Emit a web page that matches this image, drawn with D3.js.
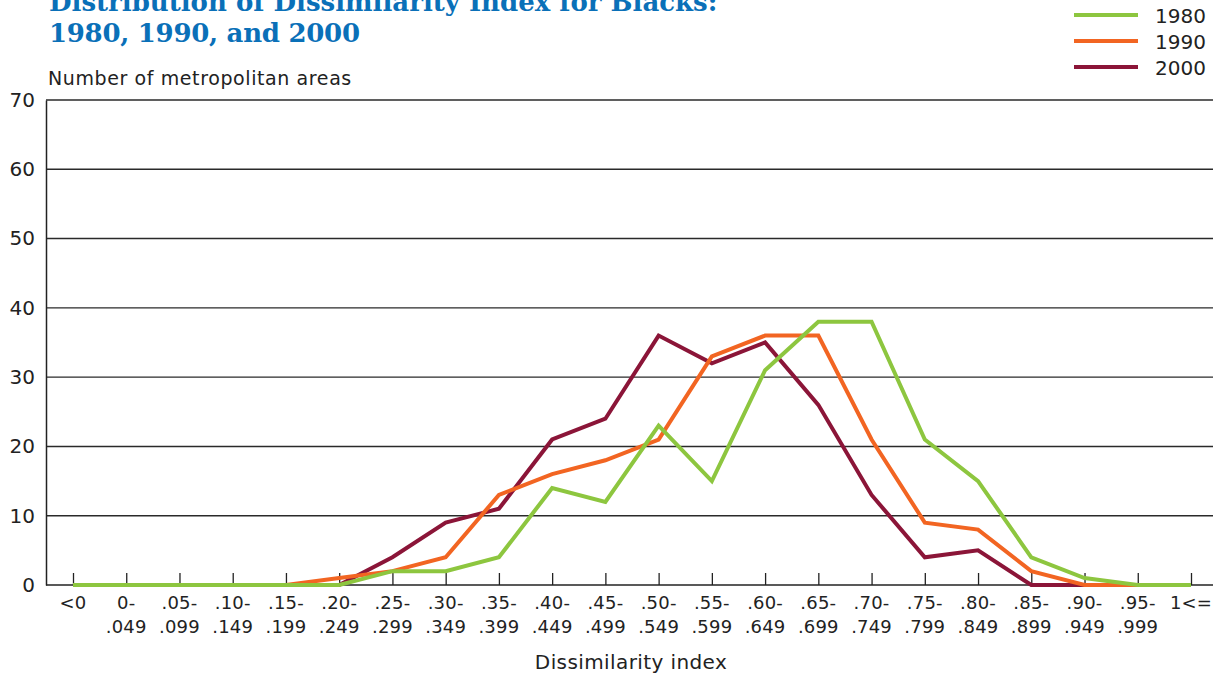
<!DOCTYPE html>
<html><head><meta charset="utf-8">
<script src="https://cdn.jsdelivr.net/npm/d3@7/dist/d3.min.js"></script>
<style>body{margin:0;background:#fff}svg{display:block}</style>
</head><body>
<script>
const categories = ["<0","0-.049",".05-.099",".10-.149",".15-.199",".20-.249",".25-.299",".30-.349",".35-.399",".40-.449",".45-.499",".50-.549",".55-.599",".60-.649",".65-.699",".70-.749",".75-.799",".80-.849",".85-.899",".90-.949",".95-.999","1<="];
const labelLine1 = ["<0","0-",".05-",".10-",".15-",".20-",".25-",".30-",".35-",".40-",".45-",".50-",".55-",".60-",".65-",".70-",".75-",".80-",".85-",".90-",".95-","1<="];
const labelLine2 = ["",".049",".099",".149",".199",".249",".299",".349",".399",".449",".499",".549",".599",".649",".699",".749",".799",".849",".899",".949",".999",""];
const v1980 = [0,0,0,0,0,0,2,2,4,14,12,23,15,31,38,38,21,15,4,1,0,0];
const v1990 = [0,0,0,0,0,1,2,4,13,16,18,21,33,36,36,21,9,8,2,0,0,0];
const v2000 = [0,0,0,0,0,0,4,9,11,21,24,36,32,35,26,13,4,5,0,0,0,0];
const yTicks = [0,10,20,30,40,50,60,70];
const seriesNames = ["1980","1990","2000"];
const seriesColors = ["#8dc63f","#f26522","#8b1538"];

const W=1213,H=677;
const svg=d3.select("body").append("svg").attr("width",W).attr("height",H);
const font="'DejaVu Sans', sans-serif";
const x=d3.scalePoint().domain(categories).range([73,1191]);
const y=d3.scaleLinear().domain([0,70]).range([585,100]);

// title
const title=svg.append("g").attr("fill","#0a70b8").attr("font-family","'DejaVu Serif', serif").attr("font-weight","bold").attr("font-size",26);
title.append("text").attr("x",49).attr("y",11).text("Distribution of Dissimilarity Index for Blacks:");
title.append("text").attr("x",49).attr("y",42).attr("textLength",311).text("1980, 1990, and 2000");

svg.append("text").attr("x",48).attr("y",85).attr("font-family",font).attr("font-size",19).attr("letter-spacing",0.6).attr("fill","#222").text("Number of metropolitan areas");

// gridlines
svg.append("g").selectAll("line").data(yTicks.filter(d=>d>0)).join("line")
  .attr("x1",46).attr("x2",1213).attr("y1",d=>y(d)).attr("y2",d=>y(d))
  .attr("stroke","#2a2a2a").attr("stroke-width",1.4);
// y axis
const ya=svg.append("g").attr("transform","translate(46,0)").call(d3.axisLeft(y).tickValues(yTicks).tickSize(0).tickPadding(11));
ya.select(".domain").attr("stroke","#222").attr("stroke-width",1.5);
ya.selectAll("text").attr("font-family",font).attr("font-size",20).attr("fill","#222");

// x axis
const xa=svg.append("g").attr("transform","translate(0,585)").call(d3.axisTop(x).tickSize(12).tickFormat(""));
xa.select(".domain").remove();
xa.selectAll("line").attr("stroke","#222").attr("stroke-width",1.3);
svg.append("line").attr("x1",46).attr("x2",1213).attr("y1",585).attr("y2",585).attr("stroke","#222").attr("stroke-width",1.6);
const lab=svg.append("g").attr("font-family",font).attr("font-size",18).attr("letter-spacing",0.2).attr("fill","#222").attr("text-anchor","middle");
categories.forEach((c,i)=>{
  const t=lab.append("text").attr("x",x(c)).attr("y",609);
  t.append("tspan").attr("x",x(c)).text(labelLine1[i]);
  if(labelLine2[i]) t.append("tspan").attr("x",x(c)).attr("dy",24).text(labelLine2[i]);
});
svg.append("text").attr("x",631).attr("y",669).attr("text-anchor","middle").attr("font-family",font).attr("font-size",20).attr("letter-spacing",0.4).attr("fill","#222").text("Dissimilarity index");

// lines
const line=d3.line().x((d,i)=>x(categories[i])).y(d=>y(d));
const vals=[v1980,v1990,v2000];
[2,1,0].forEach(k=>{
  svg.append("path").datum(vals[k]).attr("d",line).attr("fill","none")
    .attr("stroke",seriesColors[k]).attr("stroke-width",4).attr("stroke-linejoin","miter");
});

// legend
const lg=svg.append("g");
seriesNames.forEach((n,i)=>{
  const yy=15+i*26;
  lg.append("line").attr("x1",1074).attr("x2",1138).attr("y1",yy).attr("y2",yy).attr("stroke",seriesColors[i]).attr("stroke-width",4);
  lg.append("text").attr("x",1155).attr("y",yy+8).attr("font-family",font).attr("font-size",20).attr("fill","#222").text(n);
});
</script>
</body></html>
